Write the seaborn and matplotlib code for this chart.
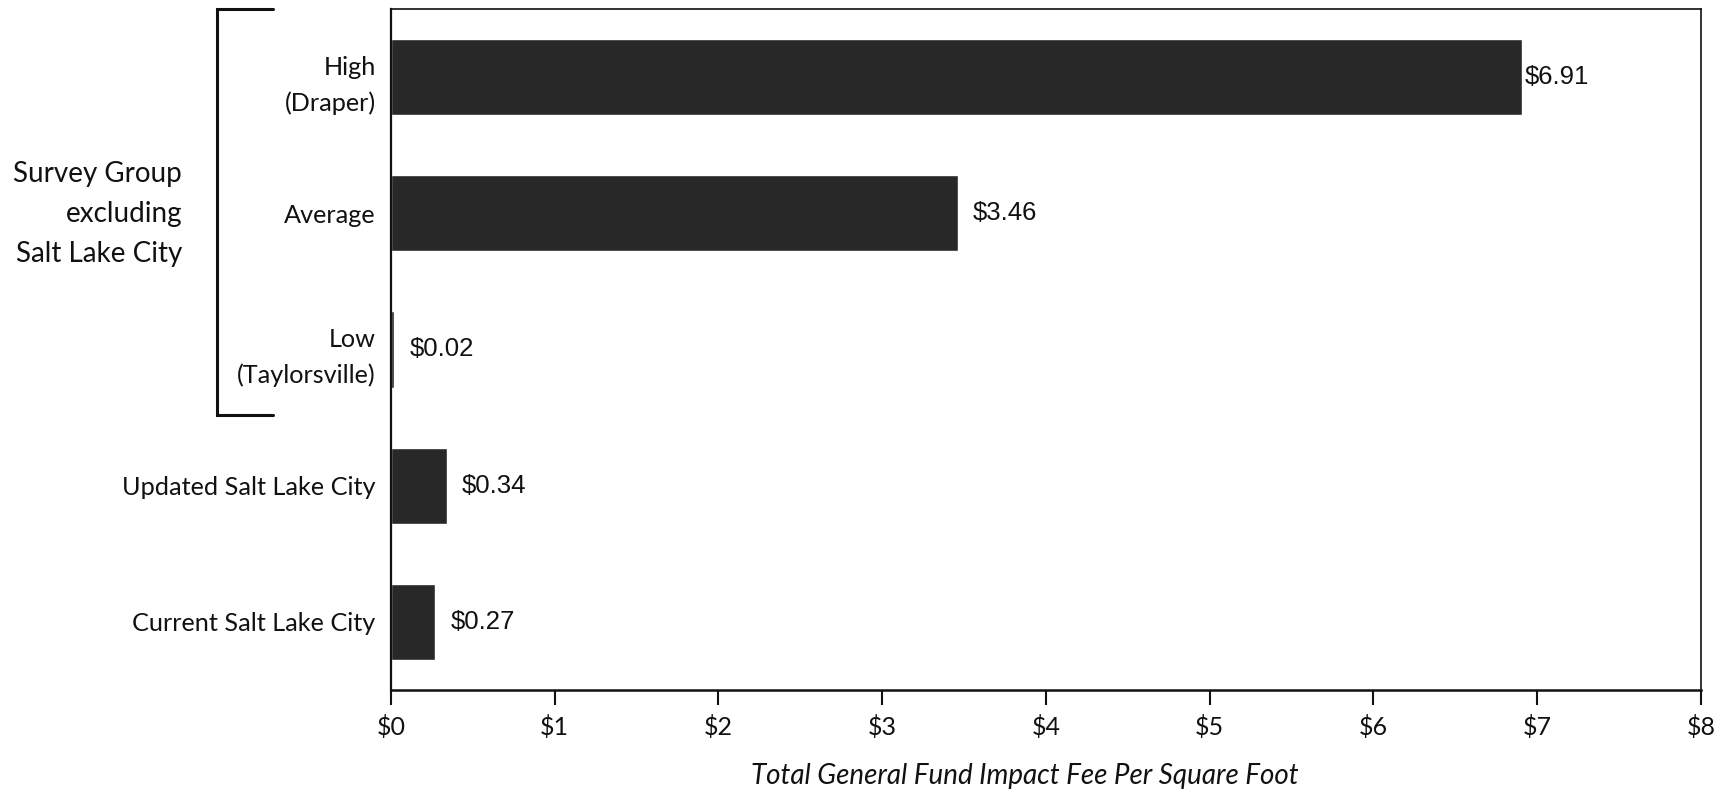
import matplotlib
matplotlib.use("Agg")
import matplotlib.pyplot as plt
import seaborn as sns
import pandas as pd
from matplotlib.lines import Line2D

# Impact fee per square foot, by comparison group
categories = ["High\n(Draper)", "Average", "Low\n(Taylorsville)",
              "Updated Salt Lake City", "Current Salt Lake City"]
fees = [6.91, 3.46, 0.02, 0.34, 0.27]
value_labels = ["$6.91", "$3.46", "$0.02", "$0.34", "$0.27"]
x_ticks = [0, 1, 2, 3, 4, 5, 6, 7, 8]
x_tick_labels = ["$0", "$1", "$2", "$3", "$4", "$5", "$6", "$7", "$8"]
group_label = "Survey Group\nexcluding\nSalt Lake City"
x_title = "Total General Fund Impact Fee Per Square Foot"

sns.set_theme(style="white")
plt.rcParams["font.family"] = ["Lato", "DejaVu Sans"]

df = pd.DataFrame({"category": categories, "fee": fees})

fig = plt.figure(figsize=(17.29, 7.89), dpi=100)
ax = fig.add_axes([0.2261, 0.1255, 0.7577, 0.8631])

sns.barplot(data=df, x="fee", y="category", orient="h", color="#282828",
            saturation=1, width=0.56, ax=ax)

ax.set_xlim(0, 8)
ax.set_ylim(4.5, -0.5)
ax.set_xticks(x_ticks)
ax.set_xticklabels(x_tick_labels, fontsize=18, color="#111111")
ax.tick_params(axis="x", direction="out", length=11, width=1.5,
               color="#111111", pad=7, bottom=True)
ax.tick_params(axis="y", length=0, pad=11)
for lbl in ax.get_yticklabels():
    lbl.set_fontsize(18.2)
    lbl.set_color("#111111")
    lbl.set_horizontalalignment("right")
    lbl.set_multialignment("right")
    lbl.set_linespacing(1.63)
ax.set_ylabel("")

ax.set_xlabel(x_title, fontsize=20, style="italic", color="#111111")
ax.xaxis.set_label_coords(0.484, -0.126)
ax.xaxis.label.set_va("center")

for side in ["left", "right", "top", "bottom"]:
    ax.spines[side].set_visible(True)
    ax.spines[side].set_color("#111111")
ax.spines["left"].set_linewidth(1.6)
ax.spines["bottom"].set_linewidth(1.8)
ax.spines["right"].set_linewidth(1.2)
ax.spines["top"].set_linewidth(1.2)

# value labels at the end of each bar
for i, (v, txt) in enumerate(zip(fees, value_labels)):
    off = 1.5 if v > 6 else 11
    ax.annotate(txt, xy=(v, i), xytext=(off, 0), textcoords="offset points",
                va="center", ha="left", fontsize=18.5, color="#111111",
                family=["Liberation Sans", "DejaVu Sans"])

# bracket grouping the survey rows
trans = fig.transFigure
bx0, bx1 = 217 / 1729, 273 / 1729
by_top, by_bot = 1 - 9 / 789, 1 - 415 / 789
fig.add_artist(Line2D([bx1, bx0, bx0, bx1], [by_top, by_top, by_bot, by_bot],
                      transform=trans, color="#111111", lw=2.2,
                      solid_joinstyle="miter"))
fig.text(182 / 1729, 1 - 214 / 789, group_label, ha="right", va="center",
         multialignment="right", fontsize=20, linespacing=1.67,
         color="#111111")

fig.savefig("out.png", dpi=100, facecolor="white")
